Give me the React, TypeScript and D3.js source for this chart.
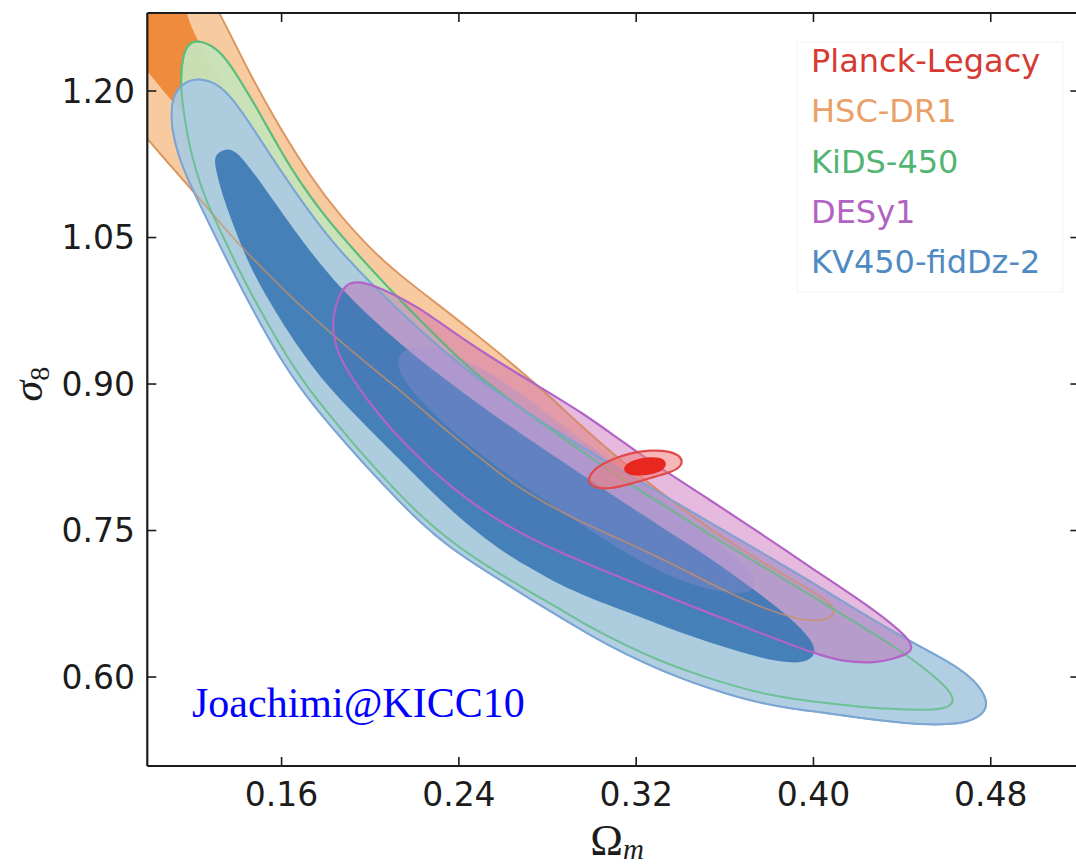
import React from "react";
import * as d3 from "d3";

// Axis ranges and ticks (Omega_m, sigma_8)
const xDomain: [number, number] = [0.0994, 0.52];
const yDomain: [number, number] = [0.5089, 1.2799];
const xTicks = [0.16, 0.24, 0.32, 0.4, 0.48];
const yTicks = [0.6, 0.75, 0.9, 1.05, 1.2];

// Legend
const legendLabels = ["Planck-Legacy", "HSC-DR1", "KiDS-450", "DESy1", "KV450-fidDz-2"];
const legendColors = ["#d63a32", "#eba068", "#52b472", "#b262c2", "#4f8bc2"];

// Contours [Omega_m, sigma_8]
const hsc95: [number, number][] = [
  [0.1209, 1.3239], [0.1322, 1.2799], [0.1458, 1.2164], [0.1593, 1.1621], [0.1728, 1.113],
  [0.1864, 1.072], [0.2031, 1.0311], [0.2179, 1.0034], [0.2315, 0.9799], [0.2464, 0.9533],
  [0.2631, 0.9226], [0.2789, 0.8918], [0.2947, 0.858], [0.3127, 0.8222], [0.3308, 0.7894],
  [0.3488, 0.7587], [0.361, 0.7403], [0.3759, 0.7188], [0.3908, 0.6993], [0.4029, 0.683],
  [0.4088, 0.6727], [0.4097, 0.6656], [0.4065, 0.6584], [0.3984, 0.6574], [0.3908, 0.6604],
  [0.3759, 0.6717], [0.361, 0.6871], [0.3443, 0.7065], [0.3263, 0.727], [0.3082, 0.7454],
  [0.2924, 0.7618], [0.2789, 0.7782], [0.2676, 0.7935], [0.2586, 0.8079], [0.236, 0.8488],
  [0.2134, 0.8939], [0.1909, 0.9348], [0.1683, 0.9799], [0.1503, 1.0208], [0.1367, 1.0526],
  [0.1263, 1.0812], [0.1128, 1.1161], [0.0997, 1.1499], [0.0871, 1.1857], [0.0781, 1.2318],
  [0.0871, 1.3239],
];
const hsc68: [number, number][] = [
  [0.0871, 1.3239], [0.1133, 1.3239], [0.1164, 1.2799], [0.1223, 1.2502], [0.1322, 1.2113],
  [0.1412, 1.1755], [0.1376, 1.1499], [0.1254, 1.1581], [0.1119, 1.1857], [0.1058, 1.2026],
  [0.0997, 1.2195], [0.0934, 1.2358], [0.0871, 1.2522],
];
const kids95: [number, number][] = [
  [0.1155, 1.1826], [0.1142, 1.2113], [0.1155, 1.2369], [0.1178, 1.2481], [0.1218, 1.2522],
  [0.1286, 1.2471], [0.1349, 1.2338], [0.1412, 1.2113], [0.148, 1.1857], [0.1548, 1.1581],
  [0.1615, 1.1314], [0.1683, 1.1069], [0.1773, 1.0782], [0.1886, 1.0475], [0.1999, 1.0188],
  [0.2134, 0.986], [0.227, 0.9553], [0.2405, 0.9246], [0.254, 0.899], [0.2721, 0.8683],
  [0.296, 0.8304], [0.3127, 0.8038], [0.3308, 0.7782], [0.352, 0.7475], [0.3759, 0.7147],
  [0.4061, 0.6737], [0.4358, 0.6328], [0.4512, 0.6072], [0.4616, 0.5867], [0.4638, 0.5734],
  [0.4593, 0.5673], [0.448, 0.5662], [0.4358, 0.5673], [0.4209, 0.5693], [0.4061, 0.5734],
  [0.3908, 0.5775], [0.3759, 0.5836], [0.361, 0.5929], [0.3457, 0.6041], [0.3308, 0.6164],
  [0.3159, 0.6318], [0.3005, 0.6492], [0.2856, 0.6697], [0.2721, 0.6871], [0.2586, 0.7055],
  [0.2464, 0.7229], [0.2351, 0.7413], [0.2238, 0.7628], [0.2125, 0.7884], [0.2013, 0.8161],
  [0.1909, 0.8427], [0.1805, 0.8714], [0.1715, 0.897], [0.1625, 0.9277], [0.1539, 0.9615],
  [0.1458, 0.9942], [0.1381, 1.029], [0.1318, 1.0598], [0.1263, 1.0854], [0.1214, 1.1171],
  [0.1178, 1.1499],
];
const kv450_95: [number, number][] = [
  [0.1164, 1.2093], [0.1223, 1.2134], [0.1309, 1.2082], [0.1381, 1.1918], [0.1471, 1.1621],
  [0.1593, 1.1191], [0.1715, 1.0792], [0.1832, 1.0444], [0.1954, 1.0147], [0.2067, 0.9891],
  [0.2179, 0.9645], [0.2315, 0.9369], [0.2464, 0.9092], [0.2662, 0.8775], [0.2888, 0.8448],
  [0.3127, 0.812], [0.3398, 0.7761], [0.3669, 0.7403], [0.3939, 0.7045], [0.4209, 0.6666],
  [0.4449, 0.6348], [0.4616, 0.6154], [0.4729, 0.597], [0.4787, 0.5765], [0.4774, 0.5642],
  [0.4729, 0.557], [0.4661, 0.5519], [0.4512, 0.5509], [0.4358, 0.554], [0.4209, 0.558],
  [0.4061, 0.5632], [0.3908, 0.5673], [0.3759, 0.5734], [0.361, 0.5826], [0.3457, 0.5939],
  [0.3308, 0.6072], [0.3159, 0.6226], [0.3005, 0.641], [0.2856, 0.6615], [0.2721, 0.6799],
  [0.2586, 0.6993], [0.2464, 0.7168], [0.2351, 0.7342], [0.2238, 0.7557], [0.2125, 0.7812],
  [0.2013, 0.8079], [0.19, 0.8365], [0.1787, 0.8662], [0.1683, 0.8959], [0.1593, 0.9267],
  [0.1512, 0.9584], [0.1435, 0.9912], [0.1358, 1.0249], [0.1291, 1.0557], [0.1232, 1.0833],
  [0.1178, 1.1089], [0.1133, 1.1345], [0.1105, 1.1601], [0.1101, 1.1826], [0.1119, 1.199],
];
const kv450_68: [number, number][] = [
  [0.1295, 1.1294], [0.1309, 1.1366], [0.1354, 1.1417], [0.1399, 1.1376], [0.1458, 1.1212],
  [0.1562, 1.0884], [0.1715, 1.0393], [0.1864, 0.9983], [0.2022, 0.9635], [0.2179, 0.9328],
  [0.236, 0.9011], [0.2586, 0.8632], [0.2856, 0.8222], [0.3159, 0.7761], [0.3457, 0.7331],
  [0.361, 0.7096], [0.3759, 0.685], [0.3908, 0.6584], [0.3984, 0.64], [0.4011, 0.6277],
  [0.3993, 0.6174], [0.3908, 0.6133], [0.3759, 0.6195], [0.361, 0.6297], [0.3457, 0.641],
  [0.3308, 0.6533], [0.3159, 0.6666], [0.2992, 0.6809], [0.2856, 0.6942], [0.2721, 0.7116],
  [0.2586, 0.7301], [0.245, 0.7536], [0.2315, 0.7812], [0.2179, 0.812], [0.2044, 0.8427],
  [0.1909, 0.8734], [0.1805, 0.899], [0.1706, 0.9277], [0.1615, 0.9584], [0.1526, 0.9912],
  [0.1448, 1.0249], [0.139, 1.0577], [0.134, 1.0884], [0.1309, 1.114],
];
const des95: [number, number][] = [
  [0.1886, 1.0034], [0.1954, 1.0055], [0.2058, 0.9973], [0.2211, 0.9799], [0.236, 0.9553],
  [0.2527, 0.9297], [0.2735, 0.9011], [0.296, 0.8703], [0.3127, 0.8427], [0.3308, 0.814],
  [0.3534, 0.7812], [0.3759, 0.7475], [0.3984, 0.7127], [0.4209, 0.6789], [0.4345, 0.6563],
  [0.4426, 0.64], [0.4449, 0.6297], [0.4426, 0.6236], [0.4358, 0.6185], [0.4286, 0.6143],
  [0.4133, 0.6154], [0.3998, 0.6246], [0.3759, 0.6451], [0.3457, 0.6717], [0.3159, 0.6993],
  [0.2856, 0.727], [0.2586, 0.7577], [0.236, 0.7946], [0.2166, 0.8355], [0.2031, 0.8703],
  [0.1922, 0.9041], [0.185, 0.9318], [0.1827, 0.9584], [0.1841, 0.9809],
];
const des68: [number, number][] = [
  [0.2121, 0.9328], [0.2225, 0.9399], [0.236, 0.9328], [0.254, 0.9123], [0.2721, 0.8836],
  [0.2902, 0.8509], [0.3082, 0.8222], [0.3263, 0.7915], [0.3443, 0.7608], [0.3579, 0.7352],
  [0.3691, 0.7147], [0.3745, 0.6973], [0.3723, 0.6871], [0.3646, 0.685], [0.3488, 0.6912],
  [0.3308, 0.7075], [0.3127, 0.7301], [0.2888, 0.7659], [0.2586, 0.812], [0.236, 0.8529],
  [0.2202, 0.8888], [0.2125, 0.9123],
];
const planck95: [number, number][] = [
  [0.2983, 0.8038], [0.3014, 0.814], [0.3082, 0.8222], [0.3172, 0.8294], [0.3263, 0.8324],
  [0.3353, 0.8314], [0.3407, 0.8253], [0.3407, 0.8161], [0.3362, 0.8099], [0.3263, 0.8038],
  [0.3172, 0.7976], [0.3082, 0.7925], [0.3014, 0.7935], [0.2987, 0.7987],
];
const planck68: [number, number][] = [
  [0.3136, 0.814], [0.3172, 0.8212], [0.324, 0.8253], [0.3308, 0.8253], [0.3339, 0.8202],
  [0.333, 0.813], [0.3285, 0.8079], [0.3217, 0.8058], [0.3159, 0.8068],
];

export default function App() {
  const left = 147.3, right = 1079.4, top = 13, bottom = 766;
  const x = d3.scaleLinear().domain(xDomain).range([left, right]);
  const y = d3.scaleLinear().domain(yDomain).range([bottom, top]);
  const path = d3
    .line<[number, number]>()
    .x((d) => x(d[0]))
    .y((d) => y(d[1]))
    .curve(d3.curveBasisClosed);

  const tickFont = "'DejaVu Sans', sans-serif";
  const serif = "'Liberation Serif', 'Times New Roman', serif";
  return (
    <div style={{ position: "absolute", left: 0, top: 0 }}>
      <svg width={1076} height={866} style={{ display: "block", background: "#fff" }}>
        <defs>
          <clipPath id="plotclip">
            <rect x={left} y={top} width={right - left} height={bottom - top} />
          </clipPath>
        </defs>
        <g clipPath="url(#plotclip)">
          {/* HSC */}
          <path d={path(hsc95)!} fill="#f8caa0" stroke="#f0a868" strokeWidth={1.8} />
          <path d={path(hsc68)!} fill="#ef8b3c" stroke="none" />
          {/* KiDS */}
          <path d={path(kids95)!} fill="#c6e3b8" fillOpacity={0.95} stroke="#5cbd7c" strokeWidth={2} />
          {/* KV450 outer */}
          <path d={path(kv450_95)!} fill="#abcae1" fillOpacity={0.93} stroke="#7ca7d3" strokeWidth={2} />
          {/* DES outer fill */}
          <path d={path(des95)!} fill="#c45ab0" fillOpacity={0.42} stroke="none" />
          {/* KV450 inner */}
          <path d={path(kv450_68)!} fill="#3a78b5" fillOpacity={0.9} stroke="none" />
          {/* DES inner fill */}
          <path d={path(des68)!} fill="#a090d8" fillOpacity={0.32} stroke="none" />
          {/* muted HSC / KiDS lines seen through blue */}
          <path d={path(hsc95)!} fill="none" stroke="#d09060" strokeOpacity={0.7} strokeWidth={1.8} />
          <path d={path(kids95)!} fill="none" stroke="#5cbd7c" strokeOpacity={0.75} strokeWidth={2} />
          <path d={path(kv450_95)!} fill="none" stroke="#7ca7d3" strokeWidth={1.6} />
          {/* DES line */}
          <path d={path(des95)!} fill="none" stroke="#b264c6" strokeWidth={2.2} />
          {/* Planck */}
          <path d={path(planck95)!} fill="#f07c7c" fillOpacity={0.55} stroke="#e04a4a" strokeWidth={2.2} />
          <path d={path(planck68)!} fill="#e8281e" stroke="none" />
        </g>

        {/* Legend */}
        <rect x={797} y={42} width={266} height={250} fill="#ffffff" stroke="#f3f3f3" strokeWidth={1} />
        {legendLabels.map((lab, i) => (
          <text
            key={lab}
            x={811}
            y={72 + i * 50.3}
            fill={legendColors[i]}
            fontFamily={tickFont}
            fontSize={32}
          >
            {lab}
          </text>
        ))}

        {/* Watermark */}
        <text x={192} y={717} fill="#0000ff" fontFamily={serif} fontSize={42}>
          Joachimi@KICC10
        </text>

        {/* Spines */}
        <g stroke="#1c1c1c" strokeWidth={2.2} fill="none">
          <line x1={left} y1={top} x2={left} y2={bottom} />
          <line x1={left} y1={bottom} x2={right} y2={bottom} />
          <line x1={left} y1={top} x2={right} y2={top} />
          <line x1={right} y1={top} x2={right} y2={bottom} />
        </g>

        {/* Ticks */}
        <g stroke="#1c1c1c" strokeWidth={1.6}>
          {xTicks.map((t) => (
            <g key={"xt" + t}>
              <line x1={x(t)} x2={x(t)} y1={bottom} y2={bottom - 9} />
              <line x1={x(t)} x2={x(t)} y1={top} y2={top + 9} />
            </g>
          ))}
          {yTicks.map((t) => (
            <g key={"yt" + t}>
              <line x1={left} x2={left + 9} y1={y(t)} y2={y(t)} />
              <line x1={right} x2={right - 9} y1={y(t)} y2={y(t)} />
            </g>
          ))}
        </g>
        <g fill="#1c1c1c" fontFamily={tickFont} fontSize={33}>
          {xTicks.map((t) => (
            <text key={"xl" + t} x={x(t)} y={806} textAnchor="middle">
              {d3.format(".2f")(t)}
            </text>
          ))}
          {yTicks.map((t) => (
            <text key={"yl" + t} x={135} y={y(t)} dy="0.36em" textAnchor="end">
              {d3.format(".2f")(t)}
            </text>
          ))}
        </g>

        {/* Axis titles */}
        <text x={617} y={855} textAnchor="middle" fill="#1c1c1c" fontFamily={serif} fontSize={44}>
          Ω
          <tspan fontStyle="italic" fontSize={29} dy={4}>m</tspan>
        </text>
        <text
          transform={`translate(42, ${y(0.9)}) rotate(-90)`}
          textAnchor="middle"
          fill="#1c1c1c"
          fontFamily={serif}
          fontSize={42}
        >
          <tspan fontStyle="italic">σ</tspan>
          <tspan fontSize={28} dy={7}>8</tspan>
        </text>
      </svg>
    </div>
  );
}
